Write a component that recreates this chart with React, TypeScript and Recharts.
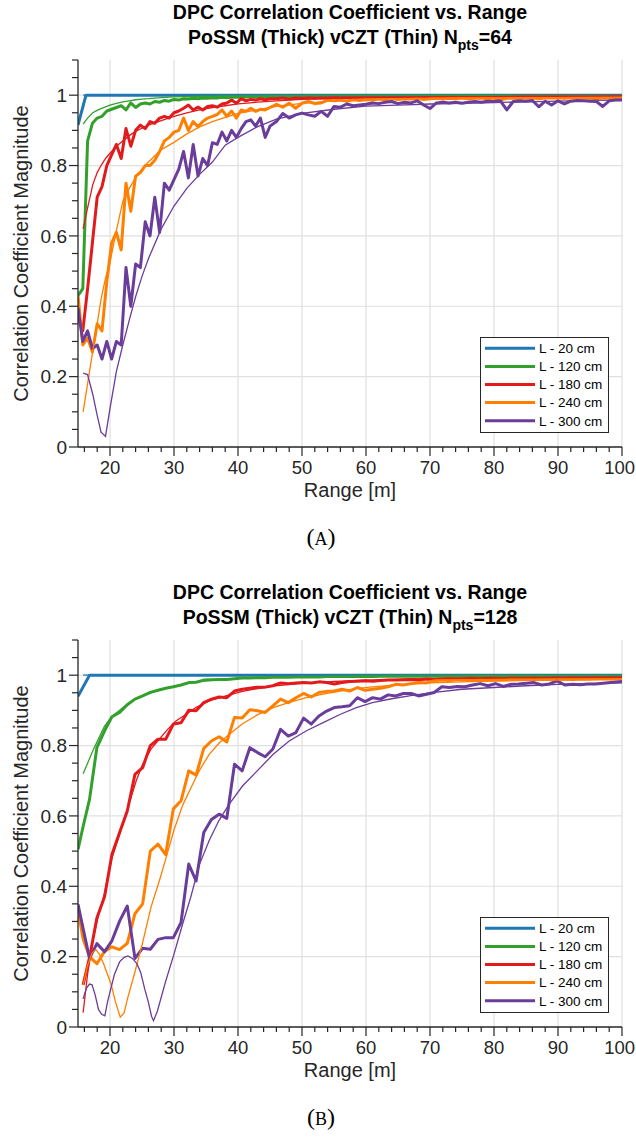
import React from 'react';
import { LineChart, Line, XAxis, YAxis, CartesianGrid } from 'recharts';

const FONT = '"Liberation Sans", Arial, Helvetica, sans-serif';
const AXIS_COLOR = '#262626';
const GRID_COLOR = '#e0e0e0';

const seriesLabels = ['L - 20 cm', 'L - 120 cm', 'L - 180 cm', 'L - 240 cm', 'L - 300 cm'];
const seriesColors = ['#1f78b4', '#33a02c', '#e31a1c', '#ff7f00', '#6a3d9a'];

const xTicksAll = [16, 18, 20, 22, 24, 26, 28, 30, 32, 34, 36, 38, 40, 42, 44, 46, 48, 50, 52, 54, 56, 58, 60, 62, 64, 66, 68, 70, 72, 74, 76, 78, 80, 82, 84, 86, 88, 90, 92, 94, 96, 98, 100];
const xTicksMajor = [20, 30, 40, 50, 60, 70, 80, 90, 100];
const yTicksAll = [0, 0.05, 0.1, 0.15, 0.2, 0.25, 0.3, 0.35, 0.4, 0.45, 0.5, 0.55, 0.6, 0.65, 0.7, 0.75, 0.8, 0.85, 0.9, 0.95, 1, 1.05, 1.1];
const yTicksMajor = [0, 0.2, 0.4, 0.6, 0.8, 1];

// ---------- Panel A (Npts = 64) ----------
const rangeA = [
  15, 15.75, 16.5, 17.25, 18, 18.75, 19.5, 20.25, 21, 21.75,
  22.5, 23.25, 24, 24.75, 25.5, 26.25, 27, 27.75, 28.5, 29.25,
  30, 30.75, 31.5, 32.25, 33, 33.75, 34.5, 35.25, 36, 36.75,
  37.5, 38.25, 39, 39.75, 40.5, 41.25, 42, 42.75, 43.5, 44.25,
  45, 46, 47, 48, 49, 50, 51, 52, 53, 54,
  55, 56, 57, 58, 59, 60, 61, 62, 63, 64,
  65, 66, 67, 68, 69, 70, 71, 72, 73, 74,
  75, 76, 77, 78, 79, 80, 81, 82, 83, 84,
  85, 86, 87, 88, 89, 90, 91, 92, 93, 94,
  95, 96, 97, 98, 99, 100,
];
const possmA20x = [15, 16.25, 100];
const possmA20 = [0.915, 1, 1];
const possmA120 = [
  0.43, 0.45, 0.87, 0.92, 0.935, 0.94, 0.955, 0.96, 0.965, 0.97,
  0.958, 0.978, 0.965, 0.975, 0.978, 0.975, 0.982, 0.98, 0.985, 0.983,
  0.988, 0.986, 0.99, 0.989, 0.991, 0.99, 0.992, 0.991, 0.993, 0.992,
  0.994, 0.993, 0.994, 0.995, 0.994, 0.995, 0.996, 0.995, 0.996, 0.996,
  0.997, 0.996, 0.997, 0.997, 0.996, 0.997, 0.997, 0.998, 0.997, 0.997,
  0.998, 0.997, 0.998, 0.998, 0.997, 0.998, 0.998, 0.998, 0.997, 0.998,
  0.998, 0.998, 0.998, 0.997, 0.998, 0.998, 0.998, 0.998, 0.998, 0.998,
  0.998, 0.998, 0.998, 0.998, 0.997, 0.998, 0.998, 0.998, 0.998, 0.998,
  0.998, 0.998, 0.998, 0.998, 0.998, 0.998, 0.998, 0.998, 0.998, 0.998,
  0.998, 0.998, 0.998, 0.998, 0.998, 0.998,
];
const possmA180 = [
  0.37, 0.33, 0.45, 0.58, 0.71, 0.74, 0.8, 0.83, 0.86, 0.82,
  0.905, 0.855, 0.9, 0.915, 0.905, 0.925, 0.92, 0.935, 0.94, 0.935,
  0.95, 0.955, 0.963, 0.972, 0.958, 0.966, 0.958, 0.968, 0.97, 0.966,
  0.975, 0.978, 0.986, 0.977, 0.99, 0.984, 0.988, 0.986, 0.99, 0.987,
  0.99, 0.99, 0.992, 0.989, 0.992, 0.991, 0.993, 0.991, 0.993, 0.992,
  0.994, 0.993, 0.994, 0.993, 0.995, 0.994, 0.995, 0.994, 0.995, 0.995,
  0.996, 0.995, 0.996, 0.995, 0.996, 0.996, 0.996, 0.997, 0.996, 0.997,
  0.996, 0.997, 0.997, 0.996, 0.997, 0.997, 0.997, 0.996, 0.997, 0.997,
  0.997, 0.998, 0.997, 0.997, 0.998, 0.997, 0.998, 0.997, 0.998, 0.998,
  0.997, 0.998, 0.998, 0.997, 0.998, 0.998,
];
const possmA240 = [
  0.43, 0.29, 0.31, 0.27, 0.35, 0.33, 0.47, 0.58, 0.61, 0.56,
  0.75, 0.67, 0.77, 0.78, 0.8, 0.8, 0.815, 0.84, 0.87, 0.88,
  0.895, 0.9, 0.935, 0.9, 0.925, 0.91, 0.925, 0.935, 0.94, 0.945,
  0.958, 0.94, 0.955, 0.935, 0.958, 0.954, 0.963, 0.954, 0.96, 0.958,
  0.965, 0.974, 0.966, 0.977, 0.963, 0.977, 0.982, 0.976, 0.978, 0.986,
  0.984, 0.986, 0.983, 0.987, 0.985, 0.988, 0.986, 0.989, 0.987, 0.99,
  0.988, 0.99, 0.989, 0.991, 0.988, 0.99, 0.991, 0.989, 0.991, 0.99,
  0.992, 0.99, 0.991, 0.992, 0.99, 0.992, 0.986, 0.991, 0.992, 0.991,
  0.993, 0.992, 0.99, 0.993, 0.992, 0.993, 0.991, 0.993, 0.992, 0.993,
  0.992, 0.99, 0.993, 0.992, 0.993, 0.993,
];
const possmA300 = [
  0.395, 0.3, 0.33, 0.28, 0.29, 0.25, 0.3, 0.25, 0.3, 0.29,
  0.51, 0.4, 0.52, 0.51, 0.64, 0.6, 0.71, 0.61, 0.75, 0.73,
  0.76, 0.79, 0.84, 0.765, 0.86, 0.77, 0.82, 0.8, 0.865, 0.86,
  0.895, 0.87, 0.9, 0.88, 0.905, 0.925, 0.93, 0.912, 0.935, 0.88,
  0.912, 0.925, 0.948, 0.935, 0.944, 0.949, 0.944, 0.94, 0.954, 0.94,
  0.968, 0.966, 0.975, 0.97, 0.972, 0.974, 0.978, 0.976, 0.98, 0.982,
  0.976, 0.98, 0.978, 0.984, 0.972, 0.962, 0.978, 0.98, 0.978, 0.98,
  0.977, 0.98, 0.982, 0.98, 0.983, 0.982, 0.984, 0.958, 0.982, 0.984,
  0.983, 0.985, 0.967, 0.983, 0.972, 0.984, 0.975, 0.983, 0.985, 0.984,
  0.983, 0.982, 0.968, 0.984, 0.986, 0.986,
];
const czt20x = [15.8, 100];
const czt20 = [1, 1];
const cztRangeA = [15.8, 16.5, 17.3, 18, 18.6, 19.3, 20, 21, 22, 23, 24, 25, 26, 28, 30, 32, 34, 36, 38, 40, 43, 46, 50, 55, 60, 65, 70, 75, 80, 85, 90, 95, 100];
const cztA120 = [0.918, 0.935, 0.95, 0.957, 0.962, 0.967, 0.972, 0.977, 0.981, 0.984, 0.987, 0.989, 0.99, 0.993, 0.995, 0.996, 0.997, 0.997, 0.998, 0.998, 0.998, 0.999, 0.999, 0.999, 0.999, 0.999, 0.999, 0.999, 0.999, 0.999, 0.999, 0.999, 0.999];
const cztA180 = [0.62, 0.68, 0.745, 0.78, 0.8, 0.82, 0.835, 0.855, 0.87, 0.885, 0.897, 0.906, 0.915, 0.928, 0.94, 0.95, 0.958, 0.965, 0.97, 0.975, 0.98, 0.984, 0.988, 0.991, 0.993, 0.994, 0.995, 0.996, 0.996, 0.997, 0.997, 0.997, 0.998];
const cztA240 = [0.1, 0.18, 0.272, 0.35, 0.42, 0.48, 0.525, 0.615, 0.698, 0.735, 0.765, 0.79, 0.81, 0.845, 0.866, 0.89, 0.91, 0.925, 0.937, 0.948, 0.958, 0.968, 0.977, 0.984, 0.988, 0.99, 0.991, 0.992, 0.992, 0.993, 0.993, 0.994, 0.994];
const cztA300 = [0.21, 0.206, 0.15, 0.09, 0.042, 0.03, 0.11, 0.215, 0.29, 0.36, 0.427, 0.485, 0.535, 0.62, 0.685, 0.735, 0.775, 0.81, 0.858, 0.88, 0.91, 0.932, 0.948, 0.96, 0.969, 0.972, 0.975, 0.977, 0.979, 0.981, 0.983, 0.985, 0.986];

// ---------- Panel B (Npts = 128) ----------
const rangeB = [
  15, 15.8, 16.8, 17.95, 19.15, 20.3, 21.5, 22.7, 23.9, 25.1,
  26.3, 27.5, 28.7, 29.9, 31.1, 32.3, 33.45, 34.65, 35.85, 37.05,
  38.25, 39.45, 40.65, 41.85, 43.05, 44.25, 45.45, 46.65, 47.85, 49.05,
  50.25, 51.45, 52.65, 53.85, 55.05, 56.25, 57.45, 58.65, 59.85, 61.05,
  62.25, 63.45, 64.65, 65.85, 67.05, 68.25, 69.45, 70.65, 71.85, 73.05,
  74.25, 75.45, 76.65, 77.85, 79.05, 80.25, 81.45, 82.65, 83.85, 85.05,
  86.25, 87.45, 88.65, 89.85, 91.05, 92.25, 93.45, 94.65, 95.85, 97.05,
  98.25, 99.45, 100,
];
const possmB20x = [15, 16.8, 100];
const possmB20 = [0.94, 1, 1];
const possmB120 = [
  0.505, 0.57, 0.647, 0.794, 0.842, 0.882, 0.894, 0.916, 0.932, 0.941,
  0.951, 0.957, 0.963, 0.967, 0.972, 0.979, 0.98, 0.986, 0.987, 0.988,
  0.988, 0.99, 0.992, 0.992, 0.993, 0.993, 0.994, 0.994, 0.994, 0.995,
  0.995, 0.995, 0.995, 0.996, 0.996, 0.996, 0.996, 0.996, 0.997, 0.996,
  0.997, 0.997, 0.997, 0.997, 0.997, 0.997, 0.997, 0.997, 0.997, 0.997,
  0.997, 0.997, 0.997, 0.997, 0.997, 0.997, 0.997, 0.997, 0.997, 0.997,
  0.997, 0.997, 0.997, 0.997, 0.997, 0.997, 0.997, 0.997, 0.997, 0.997,
  0.997, 0.997, 0.997,
];
const possmB180 = [
  null, 0.12, 0.197, 0.31, 0.37, 0.49, 0.553, 0.614, 0.718, 0.737,
  0.8, 0.818, 0.818, 0.861, 0.865, 0.9, 0.899, 0.922, 0.932, 0.938,
  0.936, 0.955, 0.96, 0.963, 0.966, 0.966, 0.97, 0.978, 0.976, 0.978,
  0.979, 0.978, 0.981, 0.979, 0.975, 0.979, 0.982, 0.983, 0.984, 0.983,
  0.985, 0.986, 0.986, 0.987, 0.988, 0.987, 0.989, 0.988, 0.989, 0.99,
  0.989, 0.99, 0.991, 0.99, 0.991, 0.991, 0.99, 0.992, 0.991, 0.992,
  0.992, 0.991, 0.992, 0.993, 0.992, 0.993, 0.992, 0.993, 0.993, 0.992,
  0.993, 0.993, 0.993,
];
const possmB240 = [
  0.33, 0.25, 0.2, 0.18, 0.215, 0.228, 0.22, 0.238, 0.322, 0.35,
  0.5, 0.52, 0.49, 0.62, 0.643, 0.728, 0.716, 0.792, 0.813, 0.825,
  0.81, 0.88, 0.878, 0.902, 0.899, 0.894, 0.913, 0.932, 0.922, 0.936,
  0.948, 0.938, 0.951, 0.954, 0.955, 0.96, 0.955, 0.965, 0.957, 0.96,
  0.963, 0.967, 0.974, 0.972, 0.976, 0.979, 0.978, 0.984, 0.986, 0.985,
  0.988, 0.986, 0.987, 0.988, 0.986, 0.988, 0.987, 0.989, 0.988, 0.989,
  0.987, 0.989, 0.988, 0.99, 0.989, 0.988, 0.99, 0.989, 0.99, 0.99,
  0.989, 0.99, 0.99,
];
const possmB300 = [
  0.349, 0.28, 0.195, 0.237, 0.214, 0.245, 0.301, 0.344, 0.195, 0.224,
  0.221, 0.249, 0.254, 0.254, 0.297, 0.463, 0.415, 0.553, 0.59, 0.605,
  0.593, 0.747, 0.728, 0.794, 0.78, 0.768, 0.79, 0.846, 0.827, 0.837,
  0.878, 0.861, 0.884, 0.898, 0.908, 0.91, 0.913, 0.936, 0.925, 0.936,
  0.932, 0.944, 0.941, 0.948, 0.948, 0.941, 0.946, 0.951, 0.967, 0.965,
  0.968, 0.967, 0.972, 0.976, 0.97, 0.976, 0.968, 0.974, 0.975, 0.977,
  0.979, 0.972, 0.975, 0.984, 0.972, 0.974, 0.973, 0.975, 0.975, 0.977,
  0.979, 0.981, 0.982,
];
const cztB120x = [15.8, 16.5, 17.2, 17.95, 19.15, 20.3, 21.5, 22.7, 23.9, 25.1, 27.5, 30, 32.3, 35, 40, 45, 50, 60, 70, 80, 90, 100];
const cztB120 = [0.72, 0.75, 0.78, 0.81, 0.855, 0.883, 0.9, 0.918, 0.932, 0.942, 0.957, 0.968, 0.977, 0.984, 0.991, 0.994, 0.996, 0.998, 0.998, 0.999, 0.999, 0.999];
const cztB180x = [15.8, 16.5, 17.3, 18.1, 19.1, 20.3, 21.5, 22.8, 24.1, 25.1, 26.4, 27.7, 29, 30.3, 31.9, 33.4, 35.5, 38.1, 40.7, 45, 50, 55, 60, 70, 80, 90, 100];
const cztB180 = [0.041, 0.15, 0.245, 0.31, 0.377, 0.48, 0.548, 0.624, 0.7, 0.747, 0.79, 0.818, 0.846, 0.87, 0.889, 0.908, 0.927, 0.941, 0.954, 0.968, 0.977, 0.982, 0.986, 0.99, 0.992, 0.993, 0.994];
const cztB240x = [15.8, 16.5, 17.2, 17.8, 18.4, 19, 19.6, 20.2, 20.8, 21.6, 22.2, 22.8, 23.8, 25.1, 26.4, 27.7, 28.75, 30, 31.35, 32.65, 34, 35.5, 37.1, 38.65, 40.7, 43, 45.5, 48, 50.7, 53.3, 56, 58.5, 61, 64, 67, 70, 75, 80, 85, 90, 95, 100];
const cztB240 = [0.12, 0.175, 0.21, 0.22, 0.205, 0.18, 0.15, 0.12, 0.075, 0.028, 0.04, 0.085, 0.15, 0.24, 0.34, 0.415, 0.48, 0.56, 0.63, 0.68, 0.73, 0.775, 0.808, 0.832, 0.862, 0.887, 0.908, 0.923, 0.936, 0.946, 0.955, 0.962, 0.967, 0.971, 0.975, 0.978, 0.981, 0.983, 0.985, 0.986, 0.987, 0.988];
const cztB300x = [15.8, 16.3, 16.8, 17.2, 17.7, 18.2, 18.7, 19.2, 19.6, 20, 20.7, 21.5, 22.2, 22.8, 23.5, 24.2, 24.8, 25.4, 26, 26.5, 26.8, 27.4, 28.7, 30, 31.3, 32.6, 34, 35.5, 37, 38.6, 40.7, 43, 45.5, 48, 50.7, 53.3, 56, 58.5, 61, 64, 67, 70, 75, 80, 85, 90, 95, 100];
const cztB300 = [0.08, 0.11, 0.122, 0.12, 0.09, 0.05, 0.036, 0.032, 0.07, 0.1, 0.15, 0.185, 0.198, 0.202, 0.195, 0.18, 0.155, 0.11, 0.07, 0.03, 0.018, 0.045, 0.13, 0.207, 0.29, 0.368, 0.463, 0.53, 0.586, 0.633, 0.685, 0.728, 0.775, 0.813, 0.842, 0.865, 0.889, 0.908, 0.922, 0.933, 0.942, 0.95, 0.96, 0.965, 0.97, 0.974, 0.976, 0.978];

type Series = { xs: number[]; ys: (number | null)[] };

const toPoints = (xs: number[], ys: (number | null)[]) =>
  xs.map((x, i) => ({ x, y: ys[i] === undefined ? null : ys[i] }));

const isMajor = (list: number[], v: number) => list.some((m) => Math.abs(m - v) < 1e-6);

function XTick(props: any) {
  const { x, y, payload } = props;
  const v = payload.value as number;
  const major = isMajor(xTicksMajor, v);
  const isLast = v === 100;
  return (
    <g>
      <line x1={x} x2={x} y1={y} y2={y + (major ? 9 : 5)} stroke={AXIS_COLOR} strokeWidth={1.2} />
      {major && (
        <text
          x={isLast ? 635 : x}
          y={y + 27}
          textAnchor={isLast ? 'end' : 'middle'}
          fontSize={18.5}
          fill={AXIS_COLOR}
          fontFamily={FONT}
        >
          {String(v)}
        </text>
      )}
    </g>
  );
}

function YTick(props: any) {
  const { x, y, payload } = props;
  const v = payload.value as number;
  const major = isMajor(yTicksMajor, v);
  return (
    <g>
      <line x1={x} x2={x - (major ? 9 : 6)} y1={y} y2={y} stroke={AXIS_COLOR} strokeWidth={1.2} />
      {major && (
        <text x={x - 11} y={y + 6.8} textAnchor="end" fontSize={19} fill={AXIS_COLOR} fontFamily={FONT}>
          {String(v)}
        </text>
      )}
    </g>
  );
}

function Panel({ top, npts, letter, thick, thin }: { top: number; npts: string; letter: string; thick: Series[]; thin: Series[] }) {
  return (
    <div style={{ position: 'absolute', left: 0, top, width: 636, height: 580 }}>
      <LineChart width={636} height={510} margin={{ top: 60, right: 14, bottom: 0, left: 0 }}>
        <CartesianGrid
          stroke={GRID_COLOR}
          strokeWidth={1.2}
          horizontalValues={yTicksMajor.filter((v) => v > 0)}
          verticalValues={xTicksMajor}
        />
        <XAxis
          type="number"
          dataKey="x"
          domain={[15, 100]}
          allowDataOverflow
          ticks={xTicksAll}
          interval={0}
          tick={(p: any) => <XTick {...p} />}
          tickLine={false}
          tickSize={0}
          tickMargin={0}
          height={63}
          axisLine={{ stroke: AXIS_COLOR, strokeWidth: 1.3 }}
        />
        <YAxis
          type="number"
          domain={[0, 1.1]}
          allowDataOverflow
          ticks={yTicksAll}
          interval={0}
          tick={(p: any) => <YTick {...p} />}
          tickLine={false}
          tickSize={0}
          tickMargin={0}
          width={78}
          axisLine={{ stroke: AXIS_COLOR, strokeWidth: 1.3 }}
        />
        {thick.map((s, i) => (
          <Line
            key={'thick' + i}
            data={toPoints(s.xs, s.ys)}
            dataKey="y"
            type="linear"
            stroke={seriesColors[i]}
            strokeWidth={3}
            strokeLinejoin="round"
            dot={false}
            activeDot={false}
            isAnimationActive={false}
          />
        ))}
        {thin.map((s, i) => (
          <Line
            key={'thin' + i}
            data={toPoints(s.xs, s.ys)}
            dataKey="y"
            type="linear"
            stroke={seriesColors[i]}
            strokeWidth={1.3}
            dot={false}
            activeDot={false}
            isAnimationActive={false}
          />
        ))}
      </LineChart>
      <svg width={636} height={580} style={{ position: 'absolute', left: 0, top: 0, pointerEvents: 'none' }}>
        <text x={350} y={19} textAnchor="middle" fontSize={19.5} fontWeight="bold" fill="#000" fontFamily={FONT}>
          DPC Correlation Coefficient vs. Range
        </text>
        <text x={350} y={43.5} textAnchor="middle" fontSize={19.5} fontWeight="bold" fill="#000" fontFamily={FONT}>
          PoSSM (Thick) vCZT (Thin) N
          <tspan fontSize={14} dy={6}>pts</tspan>
          <tspan dy={-6}>={npts}</tspan>
        </text>
        <g transform="translate(21,253.5) rotate(-90)">
          <text x={0} y={7} textAnchor="middle" fontSize={20} fill={AXIS_COLOR} fontFamily={FONT}>
            Correlation Coefficient Magnitude
          </text>
        </g>
        <text x={350} y={497} textAnchor="middle" fontSize={20} fill={AXIS_COLOR} fontFamily={FONT}>
          Range [m]
        </text>
        <text x={321} y={545} textAnchor="middle" fontSize={24} fill="#000" fontFamily='"Liberation Serif", "DejaVu Serif", serif'>
          (<tspan fontSize={18}>{letter}</tspan>)
        </text>
        <rect x={480.5} y={337.5} width={128} height={95} fill="#fff" stroke={AXIS_COLOR} strokeWidth={1} />
        {seriesLabels.map((lab, i) => {
          const cy = 348.3 + 18.1 * i;
          return (
            <g key={lab}>
              <line x1={485} x2={535} y1={cy} y2={cy} stroke={seriesColors[i]} strokeWidth={3} />
              <text x={539} y={cy + 4.8} fontSize={13.5} fill="#000" fontFamily={FONT}>
                {lab}
              </text>
            </g>
          );
        })}
      </svg>
    </div>
  );
}

export default function App() {
  const thickA: Series[] = [
    { xs: possmA20x, ys: possmA20 },
    { xs: rangeA, ys: possmA120 },
    { xs: rangeA, ys: possmA180 },
    { xs: rangeA, ys: possmA240 },
    { xs: rangeA, ys: possmA300 },
  ];
  const thinA: Series[] = [
    { xs: czt20x, ys: czt20 },
    { xs: cztRangeA, ys: cztA120 },
    { xs: cztRangeA, ys: cztA180 },
    { xs: cztRangeA, ys: cztA240 },
    { xs: cztRangeA, ys: cztA300 },
  ];
  const thickB: Series[] = [
    { xs: possmB20x, ys: possmB20 },
    { xs: rangeB, ys: possmB120 },
    { xs: rangeB, ys: possmB180 },
    { xs: rangeB, ys: possmB240 },
    { xs: rangeB, ys: possmB300 },
  ];
  const thinB: Series[] = [
    { xs: czt20x, ys: czt20 },
    { xs: cztB120x, ys: cztB120 },
    { xs: cztB180x, ys: cztB180 },
    { xs: cztB240x, ys: cztB240 },
    { xs: cztB300x, ys: cztB300 },
  ];
  return (
    <div style={{ position: 'absolute', left: 0, top: 0, width: 636, height: 1137, background: '#fff', fontFamily: FONT }}>
      <Panel top={0} npts="64" letter="A" thick={thickA} thin={thinA} />
      <Panel top={580} npts="128" letter="B" thick={thickB} thin={thinB} />
    </div>
  );
}
